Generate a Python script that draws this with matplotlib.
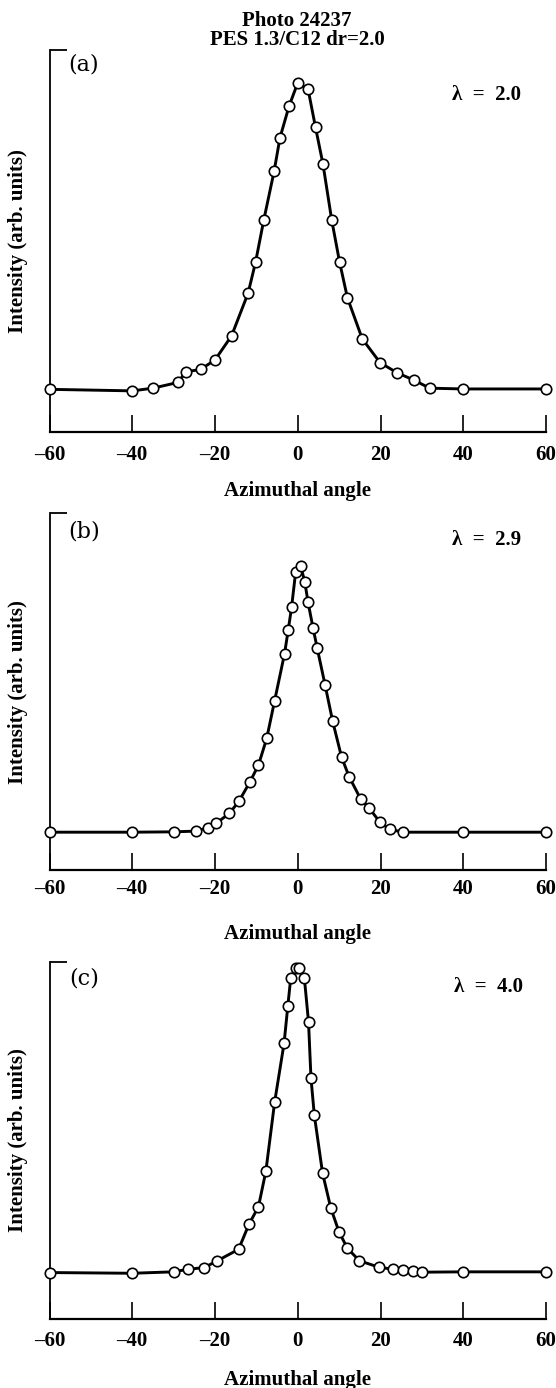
import numpy as np
import matplotlib
matplotlib.use("Agg")
import matplotlib.pyplot as plt

plt.rcParams["font.family"] = ["Liberation Serif", "DejaVu Serif"]
plt.rcParams["font.weight"] = "bold"

# -----------------------------
# Data (intensity in % of axis height)
# -----------------------------
angle_a = [-60, -40, -35, -29, -27, -23.5, -20, -16, -12, -10.2, -8.2, -5.7, -4.3, -2.1, 0,
           2.5, 4.3, 6.1, 8.2, 10.1, 12, 15.6, 19.9, 23.9, 28.1, 31.9, 40, 60]
int_a = [11.1, 10.7, 11.4, 12.9, 15.7, 16.3, 18.8, 25.1, 36.3, 44.4, 55.5, 68.3, 77.0, 85.3, 91.4,
         89.7, 79.7, 70.1, 55.5, 44.5, 35.1, 24.3, 18.1, 15.5, 13.5, 11.4, 11.2, 11.2]

angle_b = [-60, -40, -30, -24.5, -21.7, -19.7, -16.5, -14.2, -11.6, -9.5, -7.5, -5.6, -3.2, -2.3,
           -1.5, -0.5, 0.7, 1.7, 2.5, 3.7, 4.7, 6.6, 8.4, 10.6, 12.4, 15.2, 17.3, 19.8, 22.2, 25.5,
           40, 60]
int_b = [10.6, 10.6, 10.7, 10.9, 11.9, 13.1, 15.9, 19.3, 24.6, 29.4, 36.9, 47.4, 60.6, 67.3,
         73.6, 83.6, 85.2, 80.8, 75.0, 67.8, 62.2, 51.9, 41.9, 31.6, 26.2, 19.9, 17.3, 13.5, 11.4,
         10.6, 10.6, 10.6]

angle_c = [-60, -40, -30, -26.6, -22.6, -19.6, -14.3, -11.8, -9.5, -7.7, -5.6, -3.3, -2.4, -1.7,
           -0.5, 0.2, 1.6, 2.6, 3.2, 4.0, 6.0, 8.0, 10.0, 12.0, 14.9, 19.6, 23.1, 25.4, 27.8, 30.0,
           40, 60]
int_c = [13.0, 12.8, 13.2, 13.9, 14.4, 16.2, 19.5, 26.5, 31.4, 41.4, 60.6, 77.2, 87.6, 95.4, 98.2,
         98.2, 95.4, 83.2, 67.4, 57.1, 40.8, 31.0, 24.3, 19.8, 16.3, 14.5, 13.9, 13.6, 13.4, 13.1,
         13.2, 13.2]

panel_tags = ["(a)", "(b)", "(c)"]
lambdas = ["λ  =  2.0", "λ  =  2.9", "λ  =  4.0"]
xticks = [-60, -40, -20, 0, 20, 40, 60]

# -----------------------------
# Layout in pixels
# -----------------------------
W, H = 556, 1388
LEFT, RIGHT = 49.5, 546
boxes = [(50, 431.7), (513.3, 870), (961.7, 1319)]   # top, bottom of each axes
tick_pads = [9.4, 6.8, 9.0]
xlabel_y = [491, 934, 1380]
tag_y = [64, 532, 979]
lam_xy = [(486, 95), (486.5, 540), (489, 987)]
FS = 15

fig = plt.figure(figsize=(W / 100, H / 100), dpi=100)

series = [(angle_a, int_a), (angle_b, int_b), (angle_c, int_c)]
for i, ((top, bot), (xs, ys)) in enumerate(zip(boxes, series)):
    h = bot - top
    w = RIGHT - LEFT
    ax = fig.add_axes([LEFT / W, 1 - bot / H, w / W, h / H])
    ax.plot(xs, ys, color="black", lw=2.1, marker="o", ms=7.5, mfc="white", mec="black",
            mew=1.2, clip_on=False, zorder=3)
    ax.set_xlim(-60, 60)
    ax.set_ylim(0, 100)
    for s in ["top", "right"]:
        ax.spines[s].set_visible(False)
    ax.spines["left"].set_linewidth(1.3)
    ax.spines["bottom"].set_linewidth(1.6)
    ax.set_xticks(xticks)
    ax.set_xticklabels([f"{t}".replace("-", "\u2013") for t in xticks])
    ax.set_yticks([100])
    ax.set_yticklabels([])
    ax.tick_params(axis="x", direction="in", length=12, width=1.2, labelsize=FS,
                   pad=tick_pads[i])
    ax.tick_params(axis="y", direction="in", length=12, width=1.3)

    ax.set_xlabel("Azimuthal angle", fontsize=FS, fontweight="bold", va="center")
    ax.xaxis.set_label_coords(0.5, -(xlabel_y[i] - bot) / h)
    ax.set_ylabel("Intensity (arb. units)", fontsize=FS, fontweight="bold", va="center")
    ax.yaxis.set_label_coords((18 - LEFT) / w, 0.5)

    ax.text((84 - LEFT) / w, (bot - tag_y[i]) / h, panel_tags[i], transform=ax.transAxes,
            fontsize=16, fontweight="normal", family="DejaVu Serif", va="center", ha="center")
    lx, ly = lam_xy[i]
    ax.text((lx - LEFT) / w, (bot - ly) / h, lambdas[i], transform=ax.transAxes,
            fontsize=FS, fontweight="bold", va="center", ha="center")

fig.text(297 / W, 1 - 21 / H, "Photo 24237", fontsize=FS, fontweight="bold",
         ha="center", va="center")
fig.text(297 / W, 1 - 40 / H, "PES 1.3/C12 dr=2.0", fontsize=FS, fontweight="bold",
         ha="center", va="center")

fig.savefig("out.png", dpi=100)
